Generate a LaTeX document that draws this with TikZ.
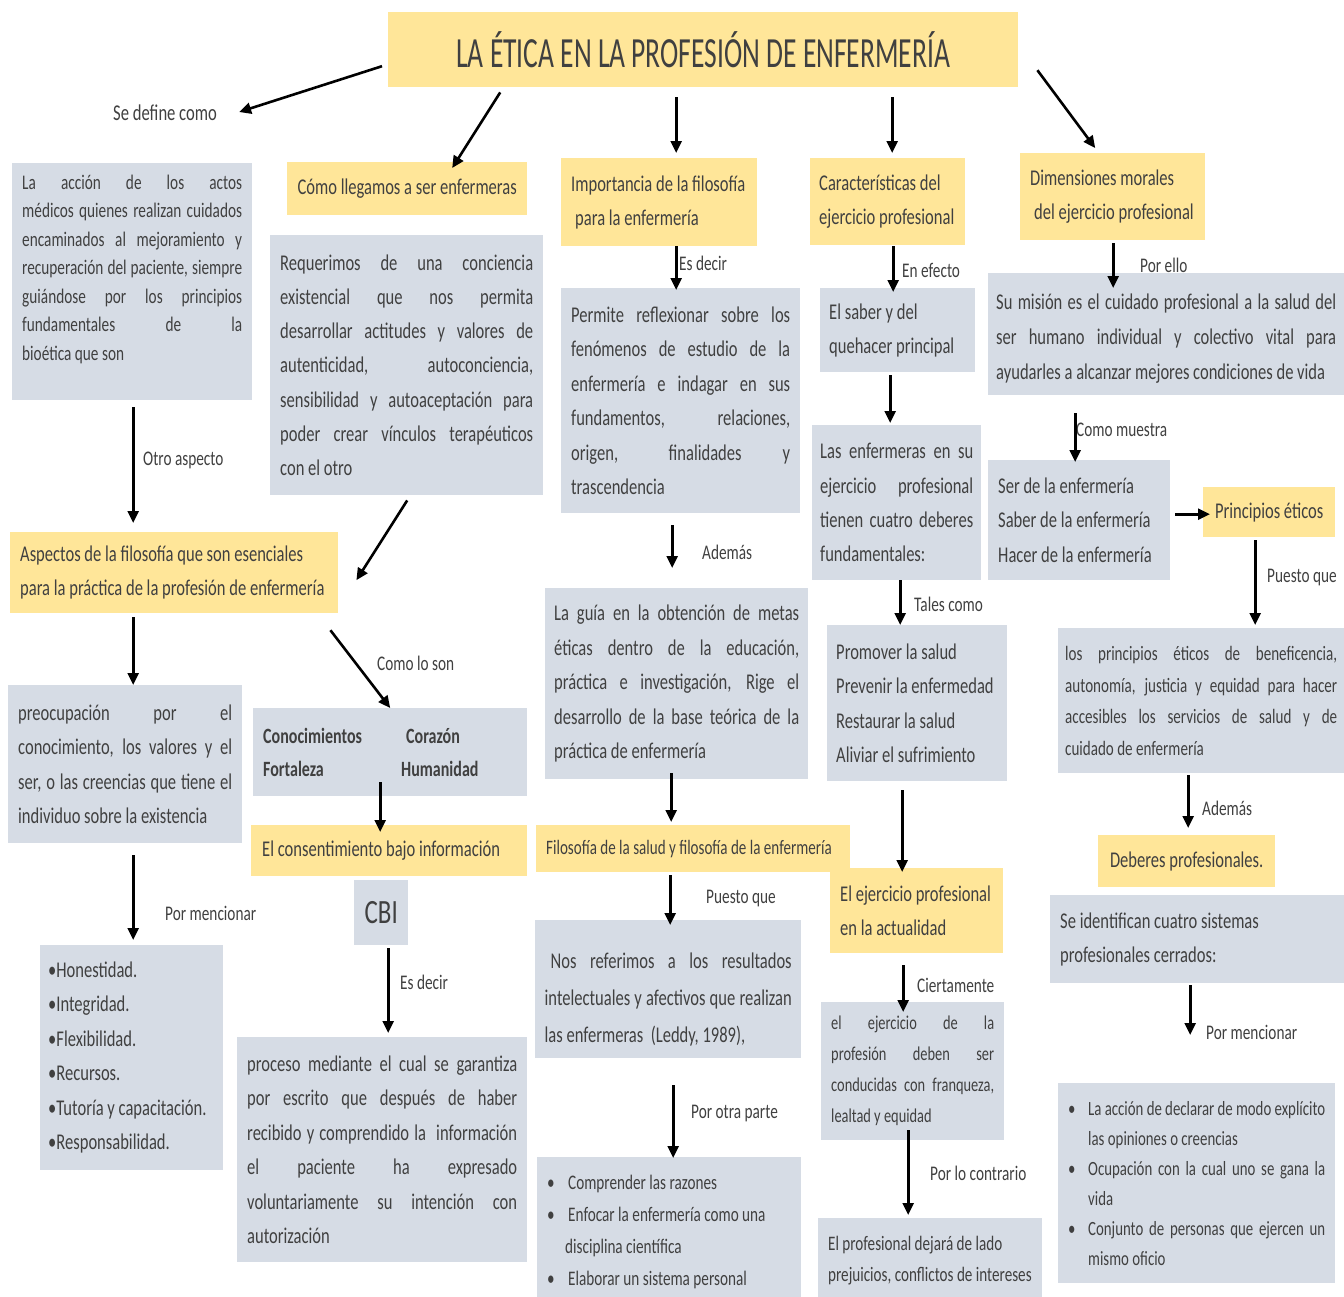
\documentclass[tikz,border=0pt]{standalone}
\usepackage{fontspec}
\setmainfont{Carlito}[FakeStretch=0.735]
\newfontfamily\titlefont{Carlito}[FakeStretch=0.64]
\usepackage{xcolor}
\usetikzlibrary{arrows.meta}
\definecolor{boxgray}{RGB}{214,220,229}
\definecolor{boxyellow}{RGB}{255,230,153}
\definecolor{textgray}{RGB}{64,64,64}
\newcommand{\fs}[2]{\fontsize{#1}{#2}\selectfont}
\newcommand{\jl}[1]{\makebox[\hsize][s]{\spaceskip=0pt\relax#1}}
\newcommand{\bxlift}[1]{\rule[-#1pt]{0pt}{#1pt}}
\newcommand{\bxdrop}[1]{\rule{0pt}{#1pt}}
\setlength{\parindent}{0pt}
\hyphenpenalty=10000
\exhyphenpenalty=10000

\begin{document}
\begin{tikzpicture}[x=1pt, y=-1pt,
    gbox/.style={fill=boxgray, anchor=north west, inner sep=0pt, align=justify, text=textgray, font={\fs{22.5}{34.3}}},
    ybox/.style={gbox, fill=boxyellow},
    lbl/.style={anchor=west, inner sep=0pt, text=textgray, font={\fs{20.8}{24}}},
    arr/.style={line width=2.6pt, -{Triangle[length=12pt,width=11pt]}}]

    \path[use as bounding box, fill=white] (0,0) rectangle (1344,1296);
    \clip (0,0) rectangle (1344,1296);

    % title
    \node[ybox, minimum width=630pt, minimum height=75pt, align=center, font={\titlefont\fs{43}{50}}] (title) at (388,12) {LA ÉTICA EN LA PROFESIÓN DE ENFERMERÍA};
    \node[lbl, font={\fs{22.6}{26}}] (sedef) at (113,113) {Se define como};

    % first column
    \node[gbox, minimum width=240pt, minimum height=237pt, text width=220pt, font={\fs{20.8}{28.5}}] (defin) at (12,163)
        {\jl{La acción de los actos}\\ \jl{médicos quienes realizan cuidados}\\ \jl{encaminados al mejoramiento y}\\ \jl{recuperación del paciente, siempre}\\ \jl{guiándose por los principios}\\ \jl{fundamentales de la}\\ bioética que son\bxlift{28}};
    \node[ybox, minimum width=328pt, minimum height=81pt, text width=308pt] (aspect) at (10,532)
        {\mbox{Aspectos de la filosofía que son esenciales}\\ \mbox{para la práctica de la profesión de enfermería}};
    \node[gbox, minimum width=234pt, minimum height=158pt, text width=214pt] (preoc) at (8,685)
        {\jl{preocupación por el}\\ \jl{conocimiento, los valores y el}\\ \jl{ser, o las creencias que tiene el}\\ individuo sobre la existencia};
    \node[gbox, minimum width=183pt, minimum height=225pt, text width=167pt, font={\fs{22.5}{34.5}}] (honest) at (40,945)
        {•Honestidad.\\ •Integridad.\\ •Flexibilidad.\\ •Recursos.\\ •Tutoría y capacitación.\\ •Responsabilidad.};

    % second column
    \node[ybox, minimum width=240pt, minimum height=53pt, align=center] (llegamos) at (287,162) {Cómo llegamos a ser enfermeras};
    \node[gbox, minimum width=273pt, minimum height=260pt, text width=253pt] (requer) at (270,235)
        {\jl{Requerimos de una conciencia}\\ \jl{existencial que nos permita}\\ \jl{desarrollar actitudes y valores de}\\ \jl{autenticidad, autoconciencia,}\\ \jl{sensibilidad y autoaceptación para}\\ \jl{poder crear vínculos terapéuticos}\\ con el otro};
    \node[gbox, minimum width=274pt, minimum height=88pt, text width=254pt, font={\bfseries\fs{21.8}{33}}] (virtud) at (253,708)
        {\makebox[143pt][l]{Conocimientos}Corazón\\ \makebox[138pt][l]{Fortaleza}Humanidad};
    \node[ybox, minimum width=276pt, minimum height=51pt, text width=254pt] (consent) at (251,825) {El consentimiento bajo información};
    \node[gbox, minimum width=54pt, minimum height=65pt, align=center, font={\fs{34}{40}}] (cbi) at (354,880) {CBI};
    \node[gbox, minimum width=290pt, minimum height=225pt, text width=270pt, font={\fs{22.5}{34.4}}] (proceso) at (237,1037)
        {\jl{proceso mediante el cual se garantiza}\\ \jl{por escrito que después de haber}\\ \jl{recibido y comprendido la \ información}\\ \jl{el paciente ha expresado}\\ \jl{voluntariamente su intención con}\\ autorización};

    % third column
    \node[ybox, minimum width=196pt, minimum height=88pt, text width=176pt] (import) at (561,158)
        {\mbox{Importancia de la filosofía}\\ \hspace*{4pt}para la enfermería};
    \node[gbox, minimum width=239pt, minimum height=225pt, text width=219pt, font={\fs{22.5}{34.5}}] (permite) at (561,288)
        {\jl{Permite reflexionar sobre los}\\ \jl{fenómenos de estudio de la}\\ \jl{enfermería e indagar en sus}\\ \jl{fundamentos, relaciones,}\\ \jl{origen, finalidades y}\\ trascendencia};
    \node[gbox, minimum width=263pt, minimum height=191pt, text width=245pt, font={\fs{22.5}{34.5}}] (guia) at (545,588)
        {\jl{La guía en la obtención de metas}\\ \jl{éticas dentro de la educación,}\\ \jl{práctica e investigación, Rige el}\\ \jl{desarrollo de la base teórica de la}\\ práctica de enfermería};
    \node[ybox, minimum width=314pt, minimum height=47pt, text width=294pt, font={\fs{20.5}{24}}] (filosalud) at (536,825)
        {\mbox{Filosofía de la salud y filosofía de la enfermería}};
    \node[gbox, minimum width=266pt, minimum height=138pt, text width=247pt, font={\fs{22.5}{37}}] (nosref) at (535,920)
        {\bxdrop{37}\jl{\hspace*{6pt}Nos referimos a los resultados}\\ \jl{intelectuales y afectivos que realizan}\\ las enfermeras \ (Leddy, 1989),};
    \node[gbox, minimum width=264pt, minimum height=150pt, text width=244pt, font={\fs{20.7}{32}}] (comprender) at (537,1157)
        {\makebox[21pt][l]{•}Comprender las razones\\ \makebox[21pt][l]{•}Enfocar la enfermería como una\\ \hspace*{18pt}disciplina científica\\ \makebox[21pt][l]{•}Elaborar un sistema personal};

    % fourth column
    \node[ybox, minimum width=155pt, minimum height=87pt, text width=137pt] (caract) at (810,158)
        {Características del\\ \mbox{ejercicio profesional}};
    \node[gbox, minimum width=155pt, minimum height=84pt, text width=137pt] (saber) at (820,288)
        {El saber y del\\ quehacer principal};
    \node[gbox, minimum width=169pt, minimum height=155pt, text width=153pt, font={\fs{22.5}{34.4}}] (deberes) at (812,425)
        {\jl{Las enfermeras en su}\\ \jl{ejercicio profesional}\\ \jl{tienen cuatro deberes}\\ fundamentales:};
    \node[gbox, minimum width=180pt, minimum height=156pt, text width=162pt, font={\fs{22.5}{34.5}}] (promover) at (827,625)
        {Promover la salud\\ Prevenir la enfermedad\\ Restaurar la salud\\ Aliviar el sufrimiento};
    \node[ybox, minimum width=173pt, minimum height=85pt, text width=153pt] (actual) at (830,868)
        {El ejercicio profesional\\ en la actualidad};
    \node[gbox, minimum width=183pt, minimum height=138pt, text width=163pt, font={\fs{19.6}{31}}] (ejerc) at (821,1002)
        {\jl{el ejercicio de la}\\ \jl{profesión deben ser}\\ \jl{conducidas con franqueza,}\\ lealtad y equidad};
    \node[gbox, minimum width=224pt, minimum height=85pt, text width=204pt, font={\fs{20.6}{31}}] (profes) at (818,1218)
        {El profesional dejará de lado\\ \mbox{prejuicios, conflictos de intereses}};

    % fifth column
    \node[ybox, minimum width=185pt, minimum height=87pt, text width=165pt] (dimens) at (1020,153)
        {Dimensiones morales\\ \hspace*{4pt}del ejercicio profesional};
    \node[gbox, minimum width=356pt, minimum height=122pt, text width=340pt, font={\fs{22.5}{35}}] (mision) at (988,273)
        {\bxdrop{24}\jl{Su misión es el cuidado profesional a la salud del}\\ \jl{ser humano individual y colectivo vital para}\\ ayudarles a alcanzar mejores condiciones de vida};
    \node[gbox, minimum width=182pt, minimum height=120pt, text width=162pt, font={\fs{22.5}{34.5}}] (serde) at (988,460)
        {Ser de la enfermería\\ Saber de la enfermería\\ Hacer de la enfermería};
    \node[ybox, minimum width=132pt, minimum height=50pt, align=center] (princ) at (1203,487) {Principios éticos};
    \node[gbox, minimum width=286pt, minimum height=145pt, text width=272pt, font={\fs{20.5}{31.5}}] (losprin) at (1058,628)
        {\jl{los principios éticos de beneficencia,}\\ \jl{autonomía, justicia y equidad para hacer}\\ \jl{accesibles los servicios de salud y de}\\ cuidado de enfermería};
    \node[ybox, minimum width=177pt, minimum height=52pt, align=center] (debprof) at (1098,835) {Deberes profesionales.};
    \node[gbox, minimum width=294pt, minimum height=88pt, text width=274pt] (identif) at (1050,895)
        {Se identifican cuatro sistemas\\ profesionales cerrados:};
    \node[gbox, minimum width=277pt, minimum height=200pt, text width=257pt, font={\fs{20.2}{30}}] (sistemas) at (1058,1083)
        {\makebox[20pt][l]{•}\makebox[237pt][s]{\spaceskip=0pt\relax La acción de declarar de modo explícito}\\ \hspace*{20pt}las opiniones o creencias\\
         \makebox[20pt][l]{•}\makebox[237pt][s]{\spaceskip=0pt\relax Ocupación con la cual uno se gana la}\\ \hspace*{20pt}vida\\
         \makebox[20pt][l]{•}\makebox[237pt][s]{\spaceskip=0pt\relax Conjunto de personas que ejercen un}\\ \hspace*{20pt}mismo oficio};

    % connector labels
    \node[lbl] (otro) at (143,460) {Otro aspecto};
    \node[lbl] (comoson) at (377,663) {Como lo son};
    \node[lbl] (pormenc) at (165,913) {Por mencionar};
    \node[lbl] (esdecirb) at (400,982) {Es decir};
    \node[lbl] (esdecira) at (679,263) {Es decir};
    \node[lbl] (ademasa) at (702,552) {Además};
    \node[lbl] (puestoa) at (706,898) {Puesto que};
    \node[lbl] (otraparte) at (691,1113) {Por otra parte};
    \node[lbl] (enefecto) at (902,270) {En efecto};
    \node[lbl] (tales) at (914,604) {Tales como};
    \node[lbl] (cierta) at (917,985) {Ciertamente};
    \node[lbl] (contrario) at (930,1173) {Por lo contrario};
    \node[lbl] (porello) at (1140,265) {Por ello};
    \node[lbl] (muestra) at (1076,430) {Como muestra};
    \node[lbl] (puestob) at (1267,577) {Puesto que};
    \node[lbl] (ademasb) at (1202,808) {Además};
    \node[lbl] (pormencb) at (1206,1032) {Por mencionar};

    % arrows
    \draw[arr] ([shift={(-6,16.5)}]title.west) -- ([shift={(22,-1)}]sedef.east);
    \draw[arr] ([shift={(-203,5)}]title.south) -- ([shift={(45,6)}]llegamos.north);
    \draw[arr] ([shift={(-27,10)}]title.south) -- ([shift={(17,-5)}]import.north);
    \draw[arr] ([shift={(189,10)}]title.south) -- ([shift={(4.5,-5)}]caract.north);
    \draw[arr] ([shift={(19,20.5)}]title.east) -- ([shift={(-17.5,-5)}]dimens.north);

    \draw[arr] ([shift={(1,7)}]defin.south) -- ([shift={(-41,-9)}]aspect.north);
    \draw[arr] ([shift={(0.5,5)}]requer.south) -- ([shift={(18,7.5)}]aspect.east);
    \draw[arr] ([shift={(-41,4)}]aspect.south) -- ([shift={(8,0)}]preoc.north);
    \draw[arr] ([shift={(-8,57.5)}]aspect.east) -- (virtud.north);
    \draw[arr] ([shift={(8,12)}]preoc.south) -- ([shift={(1.5,-5)}]honest.north);
    \draw[arr] ([shift={(-10,-14)}]virtud.south) -- ([shift={(-9,7)}]consent.north);
    \draw[arr] ([shift={(7,3)}]cbi.south) -- ([shift={(6,-4)}]proceso.north);

    \draw[arr] ([shift={(17,0)}]import.south) -- ([shift={(-4.5,2)}]permite.north);
    \draw[arr] ([shift={(-8.5,12)}]permite.south) -- ([shift={(-4.5,-20)}]guia.north);
    \draw[arr] ([shift={(-5.5,-6)}]guia.south) -- ([shift={(-22,-3)}]filosalud.north);
    \draw[arr] ([shift={(-23,3)}]filosalud.south) -- ([shift={(2,5)}]nosref.north);
    \draw[arr] ([shift={(5,27)}]nosref.south) -- ([shift={(4,1)}]comprender.north);

    \draw[arr] ([shift={(5.5,1)}]caract.south) -- ([shift={(-4.5,4)}]saber.north);
    \draw[arr] ([shift={(-7.5,3)}]saber.south) -- ([shift={(-6.5,-2)}]deberes.north);
    \draw[arr] ([shift={(3.5,0)}]deberes.south) -- ([shift={(-17,0)}]promover.north);
    \draw[arr] ([shift={(-15,9)}]promover.south) -- ([shift={(-14.5,4)}]actual.north);
    \draw[arr] ([shift={(-13.5,12)}]actual.south) -- ([shift={(-9.5,10)}]ejerc.north);
    \draw[arr] ([shift={(-4.5,-10)}]ejerc.south) -- ([shift={(-22,-3)}]profes.north);

    \draw[arr] ([shift={(0.5,3)}]dimens.south) -- ([shift={(-53,15)}]mision.north);
    \draw[arr] ([shift={(-91,18)}]mision.south) -- ([shift={(-4,2)}]serde.north);
    \draw[arr] ([shift={(5,-6)}]serde.east) -- ([shift={(7,2)}]princ.west);
    \draw[arr] ([shift={(-14,3)}]princ.south) -- ([shift={(54,-3)}]losprin.north);
    \draw[arr] ([shift={(-13,2)}]losprin.south) -- ([shift={(1.5,-7)}]debprof.north);
    \draw[arr] ([shift={(-7,2)}]identif.south) -- ([shift={(-6.5,-48)}]sistemas.north);
\end{tikzpicture}
\end{document}
